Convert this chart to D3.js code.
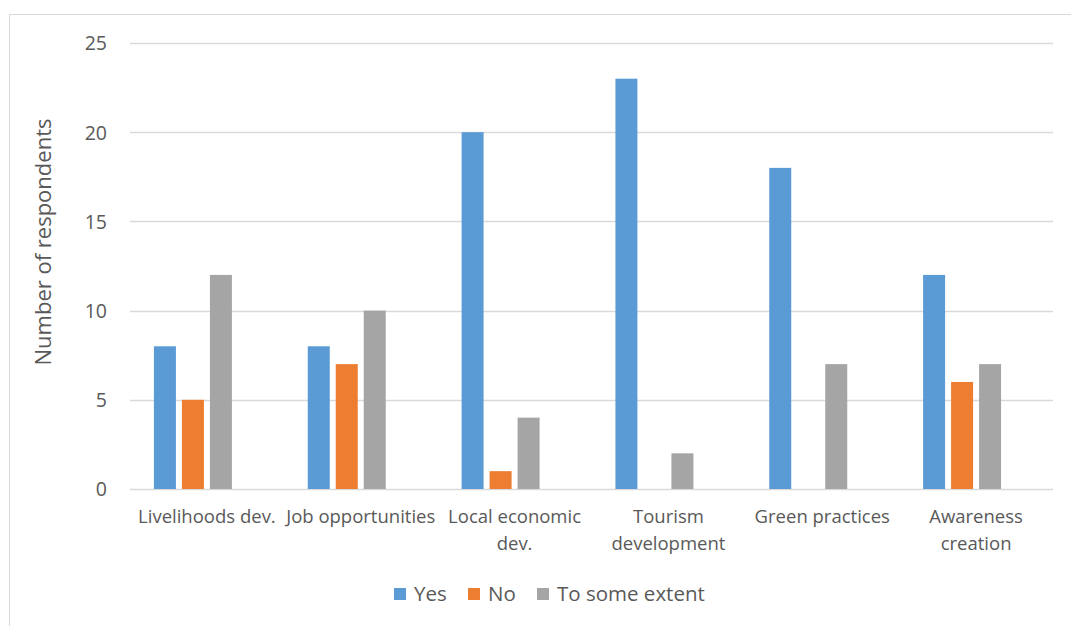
<!DOCTYPE html>
<html>
<head>
<meta charset="utf-8">
<script src="https://cdn.jsdelivr.net/npm/d3@7"></script>
<style>
  html, body { margin: 0; padding: 0; background: #fff; }
  svg { display: block; }
  text { font-family: "Open Sans", "Noto Sans", sans-serif; fill: #595959; }
</style>
</head>
<body>
<svg id="chart" width="1071" height="626"></svg>
<script>
const categories = [
  ["Livelihoods dev."],
  ["Job opportunities"],
  ["Local economic", "dev."],
  ["Tourism", "development"],
  ["Green practices"],
  ["Awareness", "creation"]
];
const seriesNames = ["Yes", "No", "To some extent"];
const seriesColors = ["#5B9BD5", "#ED7D31", "#A5A5A5"];
const yesValues = [8, 8, 20, 23, 18, 12];
const noValues = [5, 7, 1, 0, 0, 6];
const someValues = [12, 10, 4, 2, 7, 7];
const yTicks = [0, 5, 10, 15, 20, 25];

const seriesValues = [yesValues, noValues, someValues];
const svg = d3.select("#chart");

// outer border
svg.append("rect").attr("x", 9.5).attr("y", 14.5).attr("width", 1080).attr("height", 700)
  .attr("fill", "none").attr("stroke", "#d9d9d9").attr("stroke-width", 1);

const pLeft = 130, pRight = 1053, pTop = 43, pBottom = 489;
const catIdx = categories.map((d, i) => i);
const x0 = d3.scaleBand().domain(catIdx).range([pLeft, pRight]).padding(0);
const step = x0.bandwidth();
const groupW = 106;
// 4 slots (Excel leaves a fourth empty series slot)
const x1 = d3.scaleBand().domain([0, 1, 2, 3])
  .range([(step - groupW) / 2, (step + groupW) / 2]).paddingInner(6 / 28).paddingOuter(0);
const y = d3.scaleLinear().domain([0, 25]).range([pBottom, pTop]);

// gridlines
svg.append("g").selectAll("line").data(yTicks).join("line")
  .attr("x1", pLeft).attr("x2", pRight)
  .attr("y1", d => Math.round(y(d)) + 0.5).attr("y2", d => Math.round(y(d)) + 0.5)
  .attr("stroke", "#d9d9d9").attr("stroke-width", 1.3);

// y tick labels
const yAxis = d3.axisLeft(y).tickValues(yTicks).tickSize(0).tickPadding(0);
const ya = svg.append("g").attr("transform", `translate(${pLeft - 23},0)`).call(yAxis);
ya.select(".domain").remove();
ya.selectAll("text").attr("font-size", 19.5).style("fill", "#595959")
  .style("font-family", '"Open Sans", sans-serif').attr("dy", "0.35em");

// bars
const bars = [];
seriesValues.forEach((vals, s) => vals.forEach((v, i) => bars.push({s, i, v})));
svg.append("g").selectAll("rect").data(bars).join("rect")
  .attr("x", d => x0(d.i) + x1(d.s))
  .attr("width", x1.bandwidth())
  .attr("y", d => y(d.v))
  .attr("height", d => y(0) - y(d.v))
  .attr("fill", d => seriesColors[d.s]);

// category labels
const xl = svg.append("g");
categories.forEach((lines, i) => {
  const t = xl.append("text").attr("text-anchor", "middle").attr("font-size", 18.5)
    .attr("x", x0(i) + step / 2).attr("y", 523);
  lines.forEach((ln, k) => t.append("tspan").attr("x", x0(i) + step / 2).attr("dy", k === 0 ? 0 : 27).text(ln));
});

// y axis title
svg.append("text").attr("transform", "translate(51,242) rotate(-90)")
  .attr("text-anchor", "middle").attr("font-size", 22).text("Number of respondents");

// legend
const legendX = [394, 468, 537];
const lg = svg.append("g");
seriesNames.forEach((n, s) => {
  lg.append("rect").attr("x", legendX[s]).attr("y", 588).attr("width", 12).attr("height", 12).attr("fill", seriesColors[s]);
  lg.append("text").attr("x", legendX[s] + 20).attr("y", 594).attr("dy", "0.35em").attr("font-size", 20.5).text(n);
});
</script>
</body>
</html>
